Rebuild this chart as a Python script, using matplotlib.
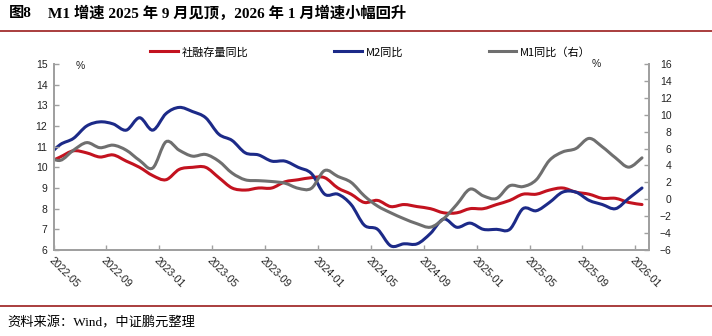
import numpy as np
import matplotlib.pyplot as plt
from matplotlib.path import Path
from matplotlib.patches import PathPatch
from matplotlib.lines import Line2D

plt.rcParams['font.family'] = ['Liberation Sans', 'Noto Sans CJK SC']
plt.rcParams['axes.unicode_minus'] = True

# monthly values, 2022-04 .. 2026-01 (2022-04 only feeds the clipped left edge)
tsf = [10.2, 10.5, 10.8, 10.7, 10.5, 10.6, 10.3, 10.0, 9.6, 9.4,
       9.9, 10.0, 10.0, 9.5, 9.0, 8.9, 9.0, 9.0, 9.3, 9.4,
       9.5, 9.5, 9.0, 8.7, 8.3, 8.4, 8.1, 8.2, 8.1, 8.0,
       7.8, 7.8, 8.0, 8.0, 8.2, 8.4, 8.7, 8.7, 8.9, 9.0,
       8.8, 8.7, 8.5, 8.5, 8.3, 8.2]
m2 = [10.5, 11.1, 11.4, 12.0, 12.2, 12.1, 11.8, 12.4, 11.8, 12.6,
      12.9, 12.7, 12.4, 11.6, 11.3, 10.7, 10.6, 10.3, 10.3, 10.0,
      9.7, 8.7, 8.7, 8.2, 7.2, 7.0, 6.2, 6.3, 6.3, 6.8,
      7.5, 7.1, 7.3, 7.0, 7.0, 7.0, 8.0, 7.9, 8.3, 8.8,
      8.8, 8.4, 8.2, 8.0, 8.5, 9.0]
m1 = [5.1, 4.6, 5.8, 6.7, 6.1, 6.4, 5.8, 4.6, 3.7, 6.8,
      5.8, 5.1, 5.3, 4.5, 3.1, 2.3, 2.2, 2.1, 1.9, 1.3,
      1.3, 3.4, 2.7, 2.0, 0.4, -0.8, -1.6, -2.3, -2.9, -3.3,
      -2.3, -0.6, 1.2, 0.4, 0.1, 1.6, 1.5, 2.3, 4.6, 5.6,
      6.0, 7.2, 6.2, 4.9, 3.8, 4.9]
tick_labels = ['2022-05', '2022-09', '2023-01', '2023-05', '2023-09', '2024-01',
               '2024-05', '2024-09', '2025-01', '2025-05', '2025-09', '2026-01']

# month centres; 2022-05 tick sits at 0
x = np.arange(len(m2)) - 0.5

RED = '#c3121f'
BLUE = '#1c2a88'
GRAY = '#6f6f6f'
AXC = '#a0a0a0'


def smooth_path(xs, ys):
    # excel-like smoothed line: catmull-rom as cubic beziers
    pts = np.column_stack([xs, ys])
    ext = np.vstack([pts[0], pts, pts[-1]])
    verts = [pts[0]]
    codes = [Path.MOVETO]
    for i in range(len(pts) - 1):
        p0, p1, p2, p3 = ext[i], ext[i + 1], ext[i + 2], ext[i + 3]
        verts += [p1 + (p2 - p0) / 6, p2 - (p3 - p1) / 6, p2]
        codes += [Path.CURVE4] * 3
    return Path(verts, codes)


fig = plt.figure(figsize=(7.12, 3.36), dpi=100)
ax = fig.add_axes([53.6 / 712, 86 / 336, 595 / 712, 186 / 336])
ax2 = ax.twinx()

ax.add_patch(PathPatch(smooth_path(x, tsf), fill=False, edgecolor=RED, lw=2.2, capstyle='round'))
ax.add_patch(PathPatch(smooth_path(x, m2), fill=False, edgecolor=BLUE, lw=2.2, capstyle='round'))
ax2.add_patch(PathPatch(smooth_path(x, m1), fill=False, edgecolor=GRAY, lw=2.2, capstyle='round'))

ax.set_xlim(0, 45)
ax.set_ylim(6, 15)
ax2.set_ylim(-6, 16)
ax.set_yticks(range(6, 16))
ax2.set_yticks(range(-6, 17, 2))
ax.set_xticks(range(0, 45, 4))
ax.set_xticklabels(tick_labels, rotation=-45, ha='left', va='top', rotation_mode='anchor')

for a in (ax, ax2):
    a.spines['top'].set_visible(False)
    for s in ('left', 'right', 'bottom'):
        a.spines[s].set_color(AXC)
        a.spines[s].set_linewidth(1.3)
    a.tick_params(direction='in', length=3.5, width=1, color=AXC, labelsize=7.5, labelcolor='#222222')
ax.tick_params(axis='y', pad=4.5)
ax.tick_params(axis='x', pad=4)
ax2.tick_params(axis='y', pad=16.5)
for lab in ax2.get_yticklabels():
    lab.set_horizontalalignment('right')

fig.text(80 / 712, 1 - 66 / 336, '%', fontsize=7.5, ha='center', va='center', color='#222222')
fig.text(596 / 712, 1 - 64 / 336, '%', fontsize=7.5, ha='center', va='center', color='#222222')

handles = [Line2D([], [], color=RED, lw=2.2),
           Line2D([], [], color=BLUE, lw=2.2),
           Line2D([], [], color=GRAY, lw=2.2)]
fig.legend(handles, ['社融存量同比', 'M2同比', 'M1同比（右）'], ncol=3,
           loc='center left', bbox_to_anchor=(150 / 712, 1 - 52 / 336),
           frameon=False, borderpad=0, borderaxespad=0,
           handlelength=2.5, handletextpad=0.35, columnspacing=7.7,
           prop={'family': ['Noto Sans CJK SC'], 'size': 8})

title_font = ['Liberation Serif', 'Noto Sans CJK SC']
fig.text(9 / 712, 1 - 13 / 336, '图8', fontsize=11, fontweight='bold', family=title_font, va='center')
fig.text(48 / 712, 1 - 13 / 336, 'M1 增速 2025 年 9 月见顶，2026 年 1 月增速小幅回升',
         fontsize=11, fontweight='bold', family=title_font, va='center')
fig.add_artist(Line2D([0, 1], [1 - 31 / 336] * 2, color='#9b1c1c', lw=1.2, transform=fig.transFigure))
fig.add_artist(Line2D([0, 1], [1 - 306 / 336] * 2, color='#9b1c1c', lw=1.2, transform=fig.transFigure))
fig.text(7 / 712, 1 - 323 / 336, '资料来源：Wind，中证鹏元整理', fontsize=9.5,
         family=title_font, va='center')

fig.savefig('out.png', dpi=100)
